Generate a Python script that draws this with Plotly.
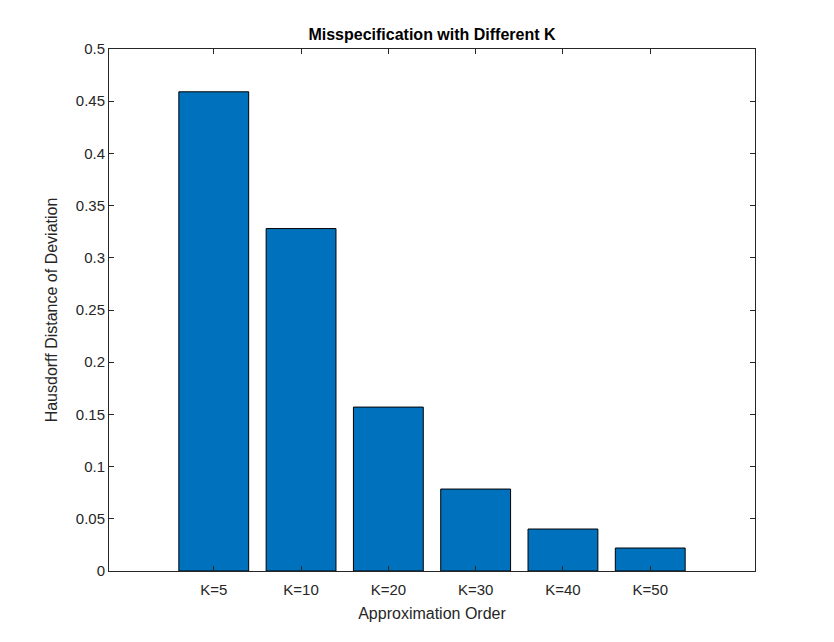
import plotly.graph_objects as go

categories = ["K=5", "K=10", "K=20", "K=30", "K=40", "K=50"]
positions = [1, 2, 3, 4, 5, 6]
values = [0.459, 0.328, 0.157, 0.0785, 0.0402, 0.0220]
y_ticks = [0, 0.05, 0.1, 0.15, 0.2, 0.25, 0.3, 0.35, 0.4, 0.45, 0.5]
y_ticktext = ["0", "0.05", "0.1", "0.15", "0.2", "0.25", "0.3", "0.35", "0.4", "0.45", "0.5"]

fig = go.Figure()
fig.add_trace(go.Bar(
    x=positions, y=values, width=0.8,
    marker=dict(color="#0072BD", line=dict(color="black", width=1)),
))

font = "Liberation Sans, Arial, Helvetica, sans-serif"
axis_common = dict(
    showline=True, linecolor="#262626", linewidth=1, mirror="ticks",
    ticks="inside", ticklen=5, tickcolor="#262626", tickwidth=1,
    showgrid=False, zeroline=False,
    tickfont=dict(family=font, size=15, color="#262626"),
)

fig.update_layout(
    width=834, height=642,
    margin=dict(l=101, r=87, t=41, b=79),
    paper_bgcolor="white", plot_bgcolor="white",
    showlegend=False,
    title=dict(text="<b>Misspecification with Different K</b>", x=0.5, xanchor="center",
               xref="paper", y=1, yref="paper", yanchor="bottom", pad=dict(b=9),
               font=dict(family=font, size=16, color="black")),
    xaxis=dict(range=[-0.2, 7.2], tickvals=positions, ticktext=categories,
               ticklabelstandoff=5,
               title=dict(text="Approximation Order", standoff=10,
                          font=dict(family=font, size=16, color="#262626")),
               **axis_common),
    yaxis=dict(range=[0, 0.5], tickvals=y_ticks, ticktext=y_ticktext,
               title=dict(text="Hausdorff Distance of Deviation", standoff=14,
                          font=dict(family=font, size=16, color="#262626")),
               **axis_common),
)

fig.write_html("out.html")
